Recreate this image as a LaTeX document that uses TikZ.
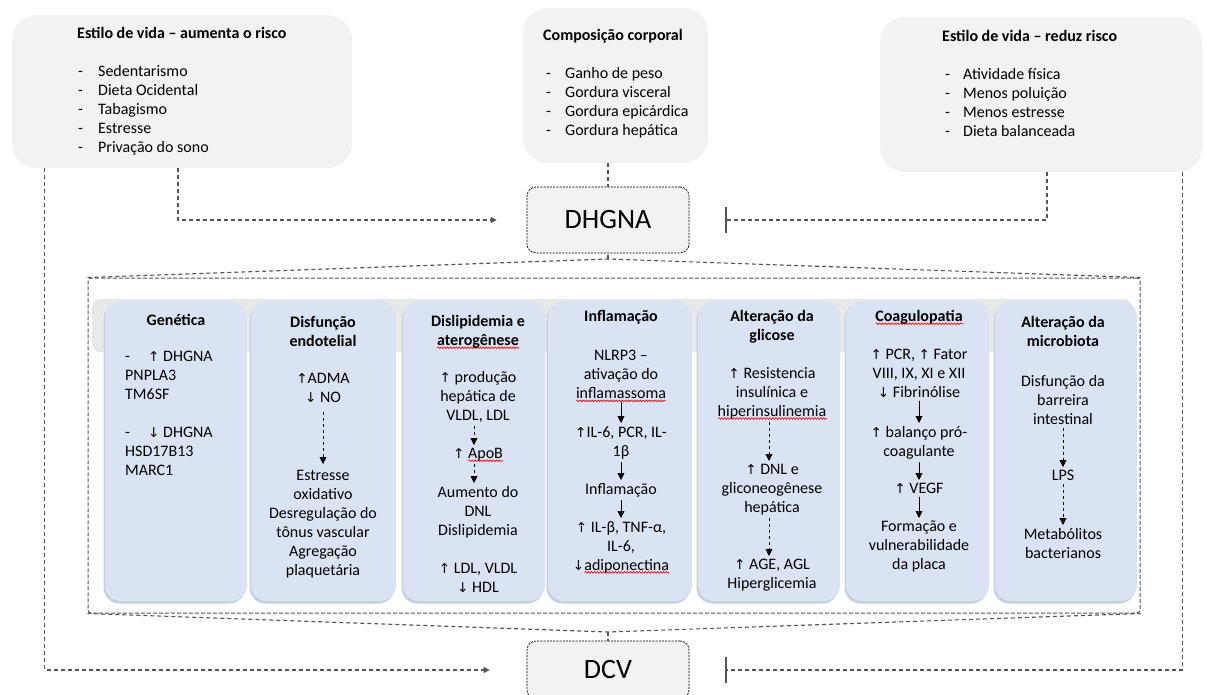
\documentclass[tikz,border=0pt]{standalone}
\usepackage{fontspec}
\setmainfont{Carlito}
\newfontfamily\arrfont{DejaVu Sans}[Scale=0.85]
\usetikzlibrary{arrows.meta,decorations.pathmorphing}
\newcommand\ua{{\arrfont ↑}}
\newcommand\da{{\arrfont ↓}}
\newsavebox\wavebox
\newcommand\rwave[1]{\sbox\wavebox{#1}\rlap{\raisebox{-3.5pt}[0pt][0pt]{\tikz[x=1pt,y=1pt]\draw[red, line width=0.6pt, decorate, decoration={snake, amplitude=0.9pt, segment length=3pt}] (0,0) -- (\wd\wavebox,0);}}#1}
\definecolor{boxgray}{HTML}{F2F2F2}
\definecolor{colblue}{HTML}{DAE3F3}
\definecolor{bandgray}{HTML}{E8E8E8}
\definecolor{linegray}{HTML}{555555}
\definecolor{shadowc}{HTML}{C9D0DB}
\tikzset{
  topbox/.style={fill=boxgray, rounded corners=25pt, inner sep=0},
  colbox/.style={fill=colblue, rounded corners=16pt, inner sep=0, minimum height=300pt,
     preaction={fill=shadowc, transform canvas={shift={(-1.5pt,-2.5pt)}}}},
  mainbox/.style={fill=boxgray, draw=black, line width=0.7pt, dash pattern=on 2pt off 1.2pt,
     rounded corners=9pt, inner sep=0, font=\fontsize{28}{32}\selectfont},
  conn/.style={draw=linegray, line width=1.1pt, dash pattern=on 4pt off 3pt},
  tri/.style={-{Triangle[width=6pt,length=6pt]}},
  inh/.style={-{Bar[width=26pt, line width=1.4pt]}},
  txt/.style={font=\fontsize{16}{19}\selectfont, align=center, inner sep=0, anchor=north},
  txtb/.style={font=\fontsize{16}{19}\selectfont\bfseries, align=center, inner sep=0, anchor=north},
  inarr/.style={-{Triangle[width=7pt,length=7pt]}, line width=0.8pt, black, shorten <=3pt, shorten >=3pt},
}
\begin{document}
\begin{tikzpicture}[x=1pt,y=-1pt]
\useasboundingbox (0,0) rectangle (1207,695);
\fill[white] (0,0) rectangle (1207,695);

% top boxes
\node[topbox, minimum width=340pt, minimum height=153pt] (tl) at (182,91.5) {};
\node[topbox, minimum width=185pt, minimum height=155pt] (cc) at (615.5,85.5) {};
\node[topbox, minimum width=322pt, minimum height=155pt] (tr) at (1041,94.5) {};

\node[txtb, anchor=north west, align=left] (tlT) at (77,27) {Estilo de vida – aumenta o risco};
\node[txt, anchor=north west, align=left] (tlL) at (78,65) {\makebox[20pt][l]{-}Sedentarismo\\\makebox[20pt][l]{-}Dieta Ocidental\\\makebox[20pt][l]{-}Tabagismo\\\makebox[20pt][l]{-}Estresse\\\makebox[20pt][l]{-}Privação do sono};

\node[txtb, anchor=north west, align=left] (ccT) at (543,29) {Composição corporal};
\node[txt, anchor=north west, align=left] (ccL) at (546,67) {\makebox[19pt][l]{-}Ganho de peso\\\makebox[19pt][l]{-}Gordura visceral\\\makebox[19pt][l]{-}Gordura epicárdica\\\makebox[19pt][l]{-}Gordura hepática};

\node[txtb, anchor=north west, align=left] (trT) at (942,30) {Estilo de vida – reduz risco};
\node[txt, anchor=north west, align=left] (trL) at (945,68) {\makebox[18pt][l]{-}Atividade física\\\makebox[18pt][l]{-}Menos poluição\\\makebox[18pt][l]{-}Menos estresse\\\makebox[18pt][l]{-}Dieta balanceada};

% main nodes
\node[mainbox, minimum width=162pt, minimum height=66pt] (dhgna) at (608,220) {DHGNA};
\node[mainbox, minimum width=162pt, minimum height=58pt] (dcv) at (608,670) {DCV};

% frame
\fill[bandgray, rounded corners=8pt] (92,299) rectangle (1132,352);
\node[draw=linegray, line width=1pt, dash pattern=on 4pt off 2pt, minimum width=1052pt, minimum height=335pt, inner sep=0, rounded corners=3pt] (frame) at (614,445.5) {};
\coordinate (ct) at (608,259);
\coordinate (cb) at (608,632);

% column boxes
\node[colbox, minimum width=142pt] (cgen) at (176,451) {};
\node[colbox, minimum width=145pt] (cdis) at (323.5,451) {};
\node[colbox, minimum width=142pt] (cdsl) at (474,451) {};
\node[colbox, minimum width=144pt] (cinf) at (620,451) {};
\node[colbox, minimum width=142pt] (cglc) at (769,451) {};
\node[colbox, minimum width=143pt] (ccg) at (917.5,451) {};
\node[colbox, minimum width=142pt] (cmc) at (1066,451) {};

% Genetica
\node[txtb] (genT) at (176,314) {Genética};
\node[txt, anchor=north west, align=left] (genL) at (125,351) {\makebox[23pt][l]{-}\ua{} DHGNA\\PNPLA3\\TM6SF\\[19pt]\makebox[23pt][l]{-}\da{} DHGNA\\HSD17B13\\MARC1};

% Disfuncao endotelial
\node[txtb] (disT) at (323,316) {Disfunção\\endotelial};
\node[txt] (dis1) at (323,373) {\ua ADMA\\\da{} NO};
\node[txt] (dis2) at (323,470) {Estresse\\oxidativo\\Desregulação do\\tônus vascular\\Agregação\\plaquetária};
\draw[inarr, dashed, shorten <=9pt, shorten >=6pt] (dis1) -- (dis2);

% Dislipidemia
\node[txtb] (dslT) at (478,315) {Dislipidemia e\\\rwave{aterogênese}};
\node[txt] (dsl1) at (478,371) {\ua{} produção\\hepática de\\VLDL, LDL};
\node[txt] (dsl2) at (478,448) {\ua{} \rwave{ApoB}};
\node[txt] (dsl3) at (478,486) {Aumento do\\DNL\\Dislipidemia\\[19pt]\ua{} LDL, VLDL\\\da{} HDL};
\draw[inarr, dashed] (dsl1.south -| cdsl.center) -- (dsl2.north -| cdsl.center);
\draw[inarr, dashed] (dsl2.south -| cdsl.center) -- (dsl3.north -| cdsl.center);

% Inflamacao
\node[txtb] (infT) at (621,310) {Inflamação};
\node[txt] (inf1) at (621,350) {NLRP3 –\\ativação do\\\rwave{inflamassoma}};
\node[txt] (inf2) at (621,426) {\ua IL-6, PCR, IL-\\1β};
\node[txt] (inf3) at (621,483) {Inflamação};
\node[txt] (inf4) at (621,521) {\ua{} IL-β, TNF-α,\\IL-6,\\\da\rwave{adiponectina}};
\draw[inarr] (inf1) -- (inf2);
\draw[inarr] (inf2) -- (inf3);
\draw[inarr] (inf3) -- (inf4);

% Glicose
\node[txtb] (glcT) at (772,310) {Alteração da\\glicose};
\node[txt] (glc1) at (772,367) {\ua{} Resistencia\\insulínica e\\\rwave{hiperinsulinemia}};
\node[txt] (glc2) at (772,464) {\ua{} DNL e\\gliconeogênese\\hepática};
\node[txt] (glc3) at (772,559) {\ua{} AGE, AGL\\Hiperglicemia};
\draw[inarr, dashed] (glc1.south -| cglc.center) -- (glc2.north -| cglc.center);
\draw[inarr, dashed] (glc2.south -| cglc.center) -- (glc3.north -| cglc.center);

% Coagulopatia
\node[txtb] (cgT) at (919,310) {\rwave{Coagulopatia}};
\node[txt] (cg1) at (919,349) {\ua{} PCR, \ua{} Fator\\VIII, IX, XI e XII\\\da{} Fibrinólise};
\node[txt] (cg2) at (919,426) {\ua{} balanço pró-\\coagulante};
\node[txt] (cg3) at (919,483) {\ua{} VEGF};
\node[txt] (cg4) at (919,521) {Formação e\\vulnerabilidade\\da placa};
\draw[inarr] (cg1) -- (cg2);
\draw[inarr] (cg2) -- (cg3);
\draw[inarr] (cg3) -- (cg4);

% Microbiota
\node[txtb] (mcT) at (1063,316) {Alteração da\\microbiota};
\node[txt] (mc1) at (1063,375) {Disfunção da\\barreira\\intestinal};
\node[txt] (mc2) at (1063,470) {LPS};
\node[txt] (mc3) at (1063,528) {Metabólitos\\bacterianos};
\draw[inarr, dashed] (mc1) -- (mc2);
\draw[inarr, dashed] (mc2) -- (mc3);

% connectors
\draw[conn, tri, shorten >=30pt] ([xshift=-4pt]tl.south) |- (dhgna.west);
\draw[conn, tri, shorten >=37pt] ([xshift=33pt]tl.south west) |- (dcv.west);
\draw[conn] (dhgna.north |- cc.south) -- (dhgna.north);
\draw[conn, inh, shorten >=36pt] ([xshift=6pt]tr.south) |- (dhgna.east);
\draw[conn, inh, shorten >=36pt] ([xshift=-20pt]tr.south east) |- (dcv.east);
\draw[conn] (frame.north west) -- (ct) -- (frame.north east);
\draw[conn] (ct) -- (dhgna.south);
\draw[conn] (frame.south west) -- (cb) -- (frame.south east);
\draw[conn] (cb) -- (dcv.north);
\end{tikzpicture}
\end{document}
